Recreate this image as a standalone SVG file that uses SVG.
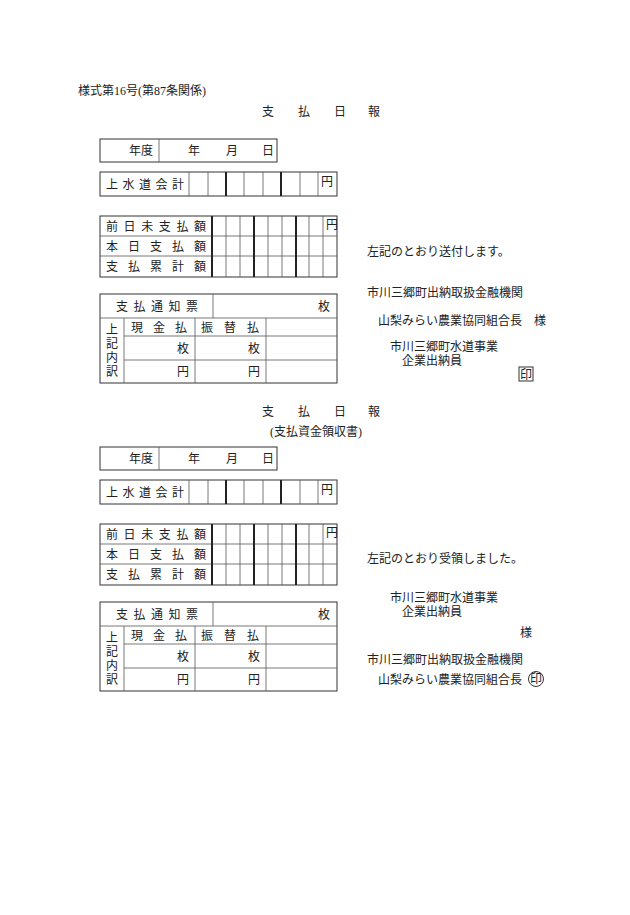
<svg xmlns="http://www.w3.org/2000/svg" xmlns:xlink="http://www.w3.org/1999/xlink" width="630" height="915" viewBox="0 0 630 915">
<style>
text{font-family:"Liberation Serif","Noto Sans CJK JP",serif;font-size:12px;fill:#222}
.b{fill:none;stroke:#333;stroke-width:1}
.t{stroke:#222;stroke-width:2}
.l{stroke:#555;stroke-width:0.8}
.m{text-anchor:middle}
</style>
<defs>
<g id="tables">
<rect class="b" x="100" y="139" width="177" height="23"/>
<line class="l" x1="159" y1="139" x2="159" y2="162"/>
<text x="129" y="155">年度</text>
<text x="188" y="155">年</text><text x="226" y="155">月</text><text x="262" y="155">日</text>
<rect class="b" x="100" y="172" width="237" height="24"/>
<text x="106" y="189" textLength="78" lengthAdjust="spacing">上水道会計</text>
<g class="l"><line x1="189" y1="172" x2="189" y2="196"/><line x1="208" y1="172" x2="208" y2="196"/><line x1="244" y1="172" x2="244" y2="196"/><line x1="263" y1="172" x2="263" y2="196"/><line x1="300" y1="172" x2="300" y2="196"/><line x1="318" y1="172" x2="318" y2="196"/></g>
<g class="t"><line x1="226" y1="172" x2="226" y2="196"/><line x1="281" y1="172" x2="281" y2="196"/></g>
<text x="321" y="186" font-size="11">円</text>
<rect class="b" x="100" y="216" width="237" height="61"/>
<g class="l"><line x1="100" y1="236" x2="337" y2="236"/><line x1="100" y1="256" x2="337" y2="256"/>
<line x1="226" y1="216" x2="226" y2="277"/><line x1="240" y1="216" x2="240" y2="277"/><line x1="268" y1="216" x2="268" y2="277"/><line x1="282" y1="216" x2="282" y2="277"/><line x1="309" y1="216" x2="309" y2="277"/><line x1="323" y1="216" x2="323" y2="277"/></g>
<g class="t"><line x1="212" y1="216" x2="212" y2="277"/><line x1="254" y1="216" x2="254" y2="277"/><line x1="296" y1="216" x2="296" y2="277"/></g>
<text x="106" y="231" textLength="100" lengthAdjust="spacing">前日未支払額</text>
<text x="106" y="251" textLength="100" lengthAdjust="spacing">本日支払額</text>
<text x="106" y="271" textLength="100" lengthAdjust="spacing">支払累計額</text>
<text x="326" y="229" font-size="11">円</text>
<rect class="b" x="100" y="294" width="237" height="89"/>
<g class="l"><line x1="213" y1="294" x2="213" y2="318"/><line x1="100" y1="318" x2="337" y2="318"/>
<line x1="124" y1="336" x2="337" y2="336"/><line x1="124" y1="360" x2="337" y2="360"/>
<line x1="124" y1="318" x2="124" y2="383"/><line x1="195" y1="318" x2="195" y2="383"/><line x1="266" y1="318" x2="266" y2="383"/></g>
<text x="116" y="311" textLength="82" lengthAdjust="spacing">支払通知票</text>
<text x="318" y="311">枚</text>
<text x="106" y="334">上</text><text x="106" y="348">記</text><text x="106" y="362">内</text><text x="106" y="376">訳</text>
<text x="131" y="332" textLength="56" lengthAdjust="spacing">現金払</text>
<text x="201" y="332" textLength="58" lengthAdjust="spacing">振替払</text>
<text x="177" y="353">枚</text><text x="248" y="353">枚</text>
<text x="177" y="376">円</text><text x="248" y="376">円</text>
</g>
</defs>
<text x="78" y="95">様式第16号(第87条関係)</text>
<g id="report1">
<text x="262" y="116">支</text><text x="298" y="116">払</text><text x="334" y="116">日</text><text x="368" y="116">報</text>
<use xlink:href="#tables"/>
<text x="367" y="256">左記のとおり送付します。</text>
<text x="367" y="297">市川三郷町出納取扱金融機関</text>
<text x="378" y="325">山梨みらい農業協同組合長　様</text>
<text x="390" y="351">市川三郷町水道事業</text>
<text x="402" y="365">企業出納員</text>
<rect class="b" x="519" y="367" width="14" height="14"/>
<text x="520" y="379">印</text>
</g>
<g id="report2">
<text x="262" y="416">支</text><text x="298" y="416">払</text><text x="334" y="416">日</text><text x="368" y="416">報</text>
<text x="316" y="436" class="m">(支払資金領収書)</text>
<use xlink:href="#tables" transform="translate(0,308)"/>
<text x="367" y="563">左記のとおり受領しました。</text>
<text x="390" y="602">市川三郷町水道事業</text>
<text x="402" y="616">企業出納員</text>
<text x="520" y="637">様</text>
<text x="367" y="664">市川三郷町出納取扱金融機関</text>
<text x="378" y="684">山梨みらい農業協同組合長</text>
<circle class="b" cx="536" cy="679" r="7.5"/>
<text x="536" y="683" class="m" font-size="10">印</text>
</g>
</svg>
